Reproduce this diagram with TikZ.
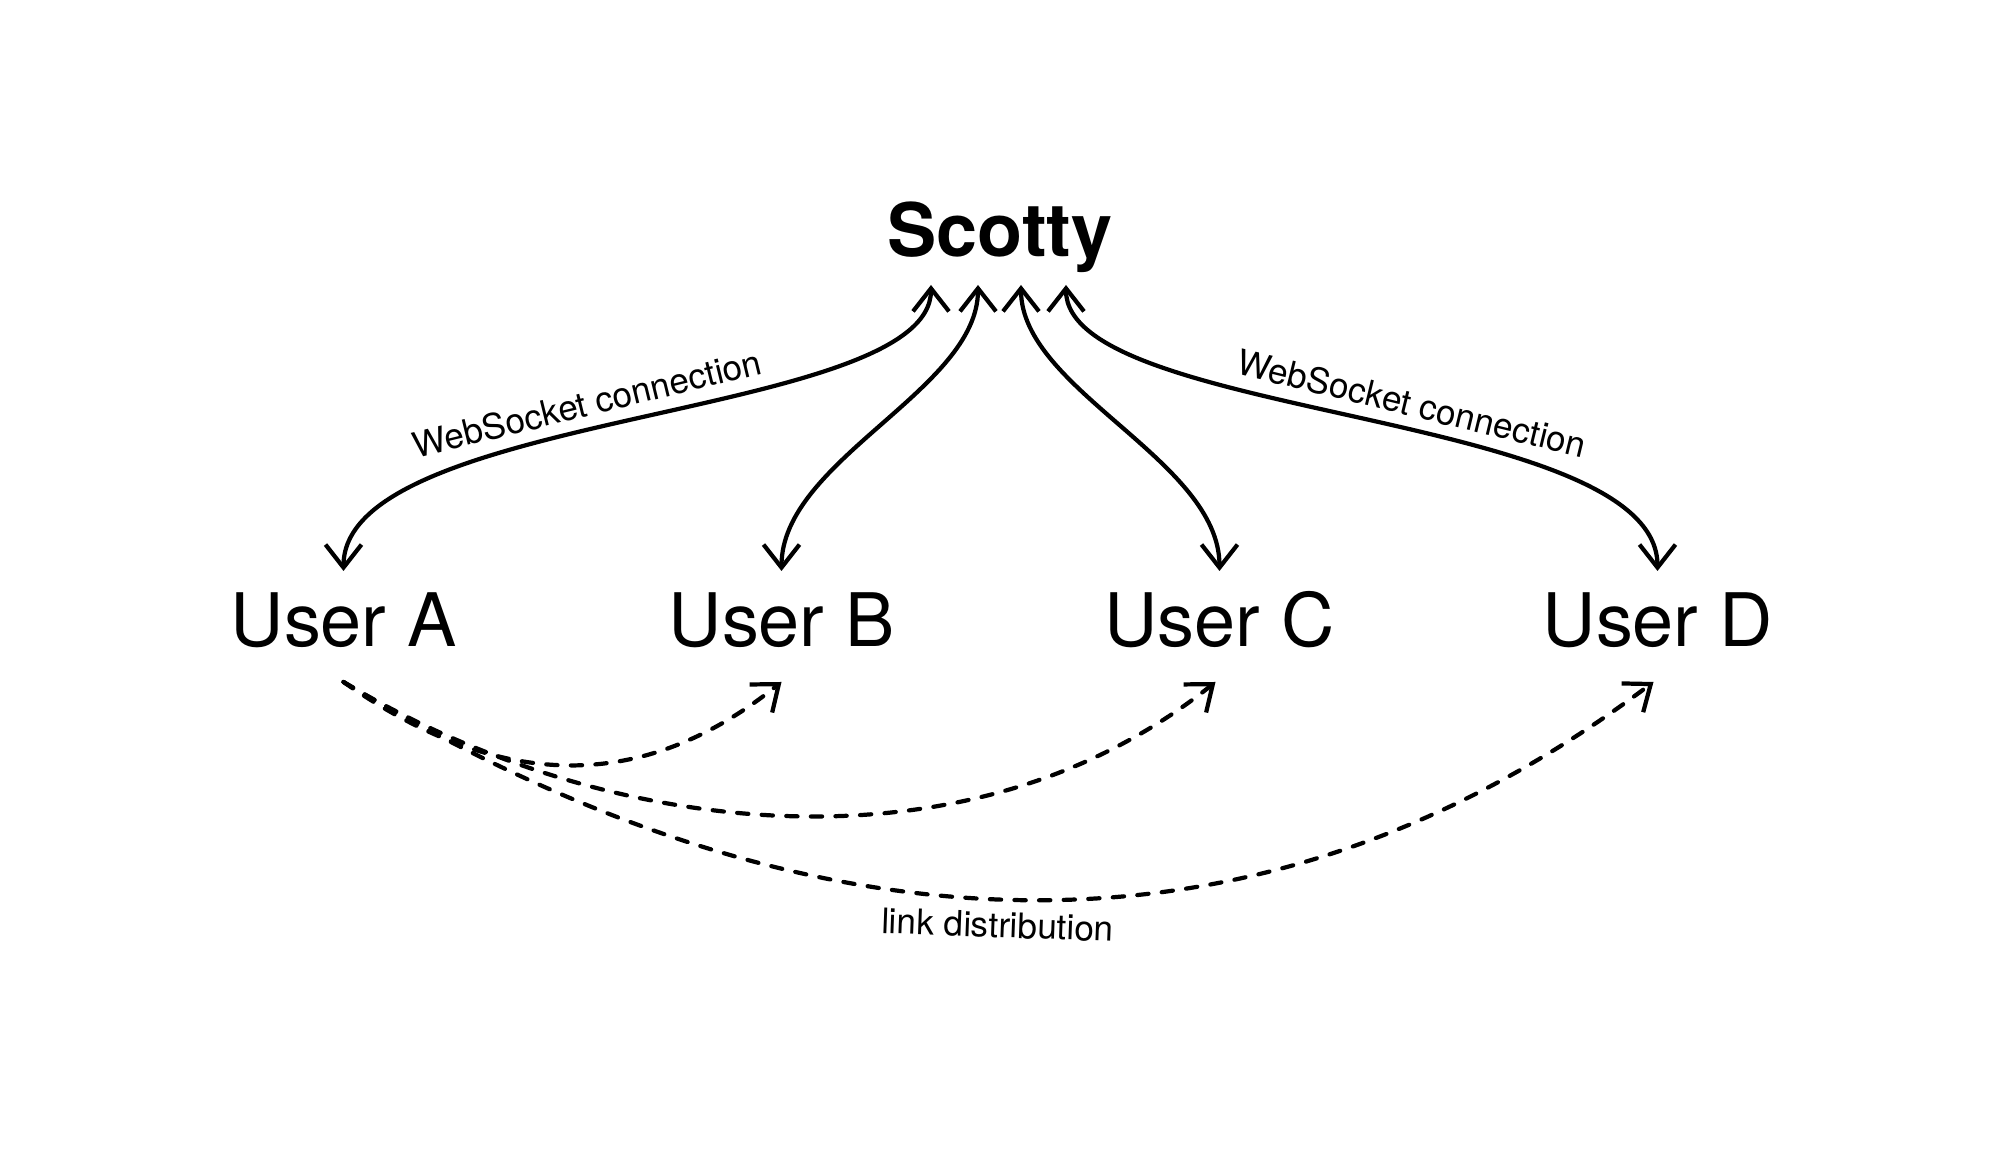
\documentclass[tikz,border=0pt]{standalone}
\usepackage{fontspec}
\setmainfont{TeX Gyre Heros}
\usetikzlibrary{calc,positioning,arrows.meta}
\tikzset{line/.style={draw, line width=1.2pt, line cap=round, >={Straight Barb[length=2.3mm, width=3.6mm]}}}

\begin{document}
\begin{tikzpicture}
\tikzstyle{title} = [font=\fontsize{21}{25}\selectfont\bfseries, inner sep=0pt, anchor=base]
\tikzstyle{user} = [font=\fontsize{21}{25}\selectfont, inner sep=0pt]
\tikzstyle{label} = [font=\fontsize{10}{12}\selectfont, inner sep=3pt]
\tikzstyle{link} = [line, dash pattern=on 3.2pt off 3.8pt]

\useasboundingbox (0,0) rectangle (20,11.67);

\node [title] (scotty) at (10.0,9.10) {Scotty};
\node [user, below=3.9cm of scotty.base, anchor=base, xshift=-2.185cm] (userB) {User B};
\node [user, left=4.38cm of userB.base, anchor=base] (userA) {User A};
\node [user, right=4.38cm of userB.base, anchor=base] (userC) {User C};
\node [user, right=4.38cm of userC.base, anchor=base] (userD) {User D};

% websocket connections
\path [line, <->] ([xshift=-0.69cm, yshift=-0.28cm]scotty.base) .. controls +(0,-1.35) and +(0,1.61) .. ([yshift=0.76cm]userA.base) node [label, sloped, above, pos=0.55] {WebSocket connection};
\path [line, <->] ([xshift=-0.22cm, yshift=-0.28cm]scotty.base) .. controls +(0,-1.05) and +(0,1.11) .. ([yshift=0.76cm]userB.base);
\path [line, <->] ([xshift=0.21cm, yshift=-0.28cm]scotty.base) .. controls +(0,-1.05) and +(0,1.11) .. ([yshift=0.76cm]userC.base);
\path [line, <->] ([xshift=0.66cm, yshift=-0.28cm]scotty.base) .. controls +(0,-1.35) and +(0,1.61) .. ([yshift=0.76cm]userD.base) node [label, sloped, above, pos=0.55] {WebSocket connection};

% links
\path [link, ->] ([yshift=-0.35cm]userA.base) .. controls +(1.47,-1.03) and +(-1.47,-1.18) .. ([yshift=-0.35cm]userB.base);
\path [link, ->] ([yshift=-0.35cm]userA.base) .. controls +(2.60,-1.56) and +(-2.50,-2.00) .. ([xshift=-0.04cm, yshift=-0.35cm]userC.base);
\path [link, ->] ([yshift=-0.35cm]userA.base) .. controls +(4.29,-2.57) and +(-4.29,-3.22) .. ([xshift=-0.04cm, yshift=-0.35cm]userD.base) node [label, sloped, below, pos=0.5] {link distribution};

\end{tikzpicture}
\end{document}
